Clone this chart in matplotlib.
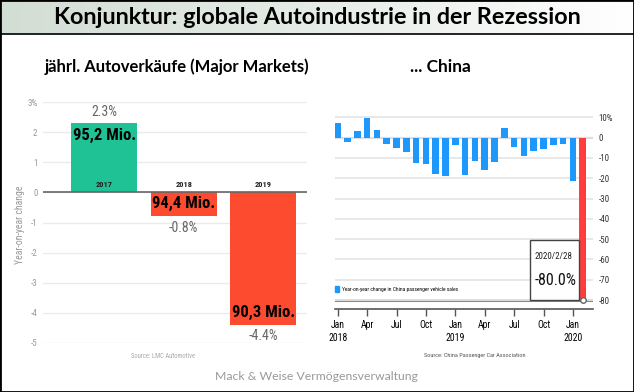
import numpy as np
import pandas as pd
import matplotlib
matplotlib.use('Agg')
import matplotlib.pyplot as plt
from matplotlib import font_manager
from matplotlib.patches import Rectangle, Patch
from matplotlib.lines import Line2D
from matplotlib.colors import LinearSegmentedColormap

W, H = 634, 392

# --- left chart: yearly car sales, major markets ---
years = ['2017', '2018', '2019']
yoy_global = [2.3, -0.8, -4.4]
sales_labels = ['95,2 Mio.', '94,4 Mio.', '90,3 Mio.']
pct_labels = ['2.3%', '-0.8%', '-4.4%']
left_yticks = [3, 2, 1, 0, -1, -2, -3, -4, -5]
left_yticklabels = ['3%', '2', '1', '0', '-1', '-2', '-3', '-4', '-5']

# --- right chart: China monthly passenger vehicle sales, yoy % ---
months = pd.period_range('2018-01', '2020-02', freq='M')
china_yoy = [7.2, -2.0, 3.3, 9.7, 3.9, -3.0, -5.2, -7.2, -12.3, -13.1, -17.7, -18.7,
             -3.8, -18.2, -11.5, -16.1, -12.0, 4.9, -4.8, -9.3, -6.4, -5.7, -3.6, -3.1,
             -21.3, -80.0]
right_yticks = [10, 0, -10, -20, -30, -40, -50, -60, -70, -80]
right_yticklabels = ['10%', '0', '-10', '-20', '-30', '-40', '-50', '-60', '-70', '-80']
month_ticks = ['Jan\n2018', 'Apr', 'Jul', 'Oct', 'Jan\n2019', 'Apr', 'Jul', 'Oct', 'Jan\n2020']

GREEN = '#1fc295'
ORANGE = '#fd4b30'
BLUE = '#1e98fb'
RED = '#ff3d3d'

# look for a narrow font; fall back to Roboto / Liberation Sans
ttf = font_manager.fontManager.ttflist
names = {f.name for f in ttf}
narrow = None
for cand in ['Liberation Sans Narrow', 'Roboto Condensed', 'Open Sans Condensed', 'Noto Sans Condensed',
             'DejaVu Sans Condensed']:
    if cand in names:
        narrow = cand
        break
if narrow is None:
    cond = [f.name for f in ttf if 'condensed' in str(f.stretch).lower() and 'CJK' not in f.name]
    for cand in ['Noto Sans', 'Open Sans', 'Roboto', 'DejaVu Sans']:
        if cand in cond:
            narrow = cand
            break
if narrow is None:
    narrow = 'Liberation Sans'
plt.rcParams['font.family'] = [narrow, 'Liberation Sans', 'DejaVu Sans']
plt.rcParams['font.stretch'] = 'condensed'
CAL = ['Lato', 'DejaVu Sans']


def px_box(l, t, r, b):
    return [l / W, 1 - b / H, (r - l) / W, (b - t) / H]


fig = plt.figure(figsize=(W / 100, H / 100), dpi=100)
fig.patch.set_facecolor('white')

# header with gradient
axH = fig.add_axes(px_box(0, 0, W, 34))
grad = LinearSegmentedColormap.from_list('hdr', ['#d2ddd4', '#e6ece7', '#ffffff'])
axH.imshow(np.linspace(0, 1, 256).reshape(1, -1), cmap=grad, aspect='auto', extent=[0, 1, 0, 1])
axH.set_xlim(0, 1)
axH.set_ylim(0, 1)
axH.axis('off')
axH.text(0.5, 0.5, 'Konjunktur: globale Autoindustrie in der Rezession', ha='center', va='center',
         fontsize=16.8, fontweight='bold', family=CAL, color='black')
fig.add_artist(Line2D([0, 1], [1 - 34 / H, 1 - 34 / H], transform=fig.transFigure, color='black', lw=1.2))

# subtitles
fig.text(177 / W, 1 - 67 / H, 'jährl. Autoverkäufe (Major Markets)', ha='center', va='center',
         fontsize=12, fontweight='bold', family=CAL, color='black')
fig.text(440 / W, 1 - 67 / H, '... China', ha='center', va='center',
         fontsize=12.5, fontweight='bold', family=CAL, color='black')

# ---- left chart ----
axL = fig.add_axes(px_box(43, 102, 307, 343))
x = np.arange(len(years))
axL.bar(x, yoy_global, width=0.83, color=[GREEN if v > 0 else ORANGE for v in yoy_global], zorder=2)
axL.set_xlim(-0.77, 2.55)
axL.set_ylim(-5, 3)
for s in axL.spines.values():
    s.set_visible(False)
axL.set_xticks([])
axL.set_yticks(left_yticks)
axL.set_yticklabels(left_yticklabels)
axL.tick_params(axis='y', length=0, pad=4, labelsize=6.5, labelcolor='#999999')
axL.grid(axis='y', color='#ebebeb', lw=1.0, zorder=0)
axL.axhline(0, color='#666666', lw=1.2, zorder=3)
for i, v in enumerate(yoy_global):
    s = np.sign(v)
    axL.text(i, v + s * 0.37, pct_labels[i], ha='center', va='center', fontsize=10, color='#666666')
    axL.text(i, v - s * 0.42, sales_labels[i], ha='center', va='center', fontsize=12,
             fontweight='bold', color='black', zorder=4)
    axL.text(i, 0.27, years[i], ha='center', va='center', fontsize=6, fontweight='bold', color='#222222', zorder=4)
fig.text(20 / W, 1 - 225 / H, 'Year-on-year change', rotation=90, ha='center', va='center',
         fontsize=7, color='#999999')
fig.text(163 / W, 1 - 356 / H, 'Source: LMC Automotive', ha='center', va='center', fontsize=4.8, color='#aaaaaa')

# ---- right chart ----
axR = fig.add_axes(px_box(335, 112, 593, 309))
idx = np.arange(len(months))
bar_colors = [BLUE] * (len(china_yoy) - 1) + [RED]
axR.bar(idx, china_yoy, width=0.68, color=bar_colors, zorder=2)
axR.set_xlim(-0.28, 26.05)
axR.set_ylim(-84.4, 12.6)
for k in ['top', 'left', 'right']:
    axR.spines[k].set_visible(False)
axR.spines['bottom'].set_color('#555555')
axR.spines['bottom'].set_linewidth(1.2)
axR.yaxis.tick_right()
axR.set_yticks(right_yticks)
axR.set_yticklabels(right_yticklabels)
axR.tick_params(axis='y', length=0, pad=4, labelsize=6.5, labelcolor='#333333')
axR.grid(axis='y', color='#e6e6e6', lw=1.3, zorder=0)
axR.axhline(0, color='#999999', lw=1.5, zorder=1)
axR.axhline(-80, color='#777777', lw=2, zorder=1)
axR.set_xticks(idx[::3])
axR.set_xticklabels(month_ticks, linespacing=1.4)
axR.tick_params(axis='x', direction='out', length=5, width=1, color='#555555', labelsize=7, pad=3)

# annotation box
last = len(china_yoy) - 1
axR.add_patch(Rectangle((19.6, china_yoy[last]), last - 0.34 - 19.6, 29.4, fc='white', ec='#444444',
                        lw=1, zorder=4))
axR.text(20.1, -58.5, '2020/2/28', ha='left', va='center', fontsize=6.5, color='#222222', zorder=5)
axR.text(22.2, -70.3, f'{china_yoy[last]:.1f}%', ha='center', va='center', fontsize=11.5,
         color='#111111', zorder=5)
axR.plot(last, china_yoy[last], 'o', ms=4, mfc='white', mec='#666666', mew=1, zorder=6, clip_on=False)

axR.legend(handles=[Patch(color=BLUE, label='Year-on-year change in China passenger vehicle sales')],
           loc='center left', bbox_to_anchor=(0, 0.10), frameon=False, fontsize=4,
           handlelength=0.7, handleheight=1.3, handletextpad=0.5, borderaxespad=0, borderpad=0)
fig.text(475 / W, 1 - 356 / H, 'Source: China Passenger Car Association', ha='center', va='center',
         fontsize=4.5, color='#555555')

# footer and frame
fig.text(316 / W, 1 - 376 / H, 'Mack & Weise Vermögensverwaltung', ha='center', va='center',
         fontsize=8.8, family=CAL, color='#999999')
fig.add_artist(Rectangle((0, 0), 1, 1, transform=fig.transFigure, fill=False, ec='black', lw=2))

fig.savefig('out.png', dpi=100)
